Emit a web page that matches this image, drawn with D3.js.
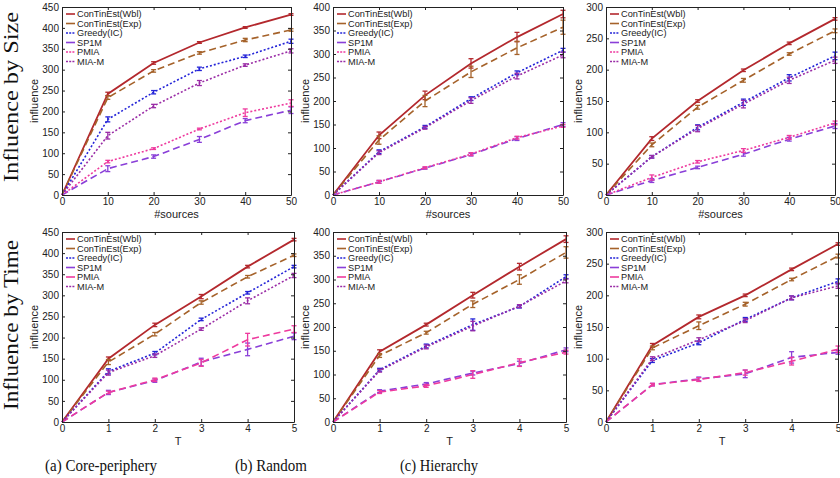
<!DOCTYPE html>
<html><head><meta charset="utf-8">
<script src="https://cdn.jsdelivr.net/npm/d3@7"></script>
<style>body{margin:0;background:#fff}svg{display:block}</style>
</head><body><svg id="c" width="840" height="478"></svg>
<script>
// ---------- data ----------
const seriesNames = ["ConTinEst(Wbl)","ConTinEst(Exp)","Greedy(IC)","SP1M","PMIA","MIA-M"];
const sizeX = [0,10,20,30,40,50];
const timeX = [0,1,2,3,4,5];
const sizeTicks = [0,10,20,30,40,50];
const timeTicks = [0,1,2,3,4,5];
const coreYTicks = [0,50,100,150,200,250,300,350,400,450];
const randomYTicks = [0,50,100,150,200,250,300,350,400];
const hierYTicks = [0,50,100,150,200,250,300];

// series order: Wbl, Exp, Greedy, SP1M, PMIA, MIA-M
const coreSizeVals = [
  [0,242,316,365,401,432],
  [0,233,297,340,371,395],
  [0,181,246,302,332,368],
  [0,63,92,133,178,203],
  [0,80,111,158,197,220],
  [0,142,213,268,311,345]];
const coreSizeErr = [
  [0,4,3,2,2,2],[0,4,3,3,4,3],[0,6,4,4,3,5],[0,7,4,7,5,8],[0,3,2,2,9,8],[0,8,4,6,3,5]];

const randomSizeVals = [
  [0,127,212,280,336,385],
  [0,117,200,262,313,357],
  [0,92,145,205,260,308],
  [0,28,57,86,120,150],
  [0,28,58,87,122,147],
  [0,90,143,201,253,298]];
const randomSizeErr = [
  [0,7,9,10,10,8],[0,9,12,12,14,15],[0,4,3,4,4,4],[0,3,2,3,4,4],[0,3,2,3,3,3],[0,4,3,6,6,6]];

const hierSizeVals = [
  [0,90,150,199,242,281],
  [0,80,140,183,225,262],
  [0,61,108,148,187,222],
  [0,23,44,65,89,110],
  [0,28,53,71,92,115],
  [0,61,106,145,183,215]];
const hierSizeErr = [
  [0,3,2,2,2,2],[0,3,3,3,2,3],[0,2,4,5,5,6],[0,3,2,3,3,4],[0,4,2,3,3,3],[0,2,5,6,5,5]];

const coreTimeVals = [
  [0,150,230,297,368,432],
  [0,142,208,283,344,395],
  [0,120,163,243,306,368],
  [0,70,98,142,172,203],
  [0,70,100,140,195,220],
  [0,117,157,220,287,347]];
const coreTimeErr = [
  [0,4,4,5,3,3],[0,6,4,4,3,3],[0,6,4,3,3,3],[0,5,4,9,15,8],[0,3,4,8,15,8],[0,6,4,3,7,5]];

const randomTimeVals = [
  [0,148,205,267,327,385],
  [0,140,188,248,300,357],
  [0,110,160,205,243,306],
  [0,65,80,103,123,152],
  [0,63,76,100,125,147],
  [0,108,158,202,244,297]];
const randomTimeErr = [
  [0,4,3,6,7,7],[0,4,3,7,10,12],[0,3,4,12,3,4],[0,3,3,4,5,4],[0,3,3,8,8,4],[0,3,4,10,3,4]];

const hierTimeVals = [
  [0,121,166,200,241,281],
  [0,117,152,186,225,262],
  [0,97,125,162,196,222],
  [0,59,68,76,102,110],
  [0,59,67,78,96,115],
  [0,100,130,160,196,215]];
const hierTimeErr = [
  [0,3,3,2,2,2],[0,3,6,3,2,3],[0,3,3,3,3,4],[0,2,3,6,9,3],[0,2,3,4,6,5],[0,3,3,3,3,4]];

const rowLabels = ["Influence by Size","Influence by Time"];
const captions = ["(a) Core-periphery","(b) Random","(c) Hierarchy"];
const xLabels = ["#sources","T"];
const yLabel = "influence";

// ---------- styles ----------
const colors = ["#b3282d","#a5622a","#2424d8","#8a3fd8","#ee3a9e","#9a2ca6"];
const widths = [1.8,1.6,1.6,1.6,1.6,1.6];
const dashTop = [null,"7,4","2,2","7,4","2,2","2,2"];
const dashBot = [null,"7,4","2,2","7,4","7,4","2,2"];

const panels = [
  {vals:coreSizeVals, err:coreSizeErr, xs:sizeX, xt:sizeTicks, yt:coreYTicks, ymax:450, x0:62, x1:291, y0:195, y1:7, row:0},
  {vals:randomSizeVals, err:randomSizeErr, xs:sizeX, xt:sizeTicks, yt:randomYTicks, ymax:400, x0:333, x1:563, y0:195, y1:7, row:0},
  {vals:hierSizeVals, err:hierSizeErr, xs:sizeX, xt:sizeTicks, yt:hierYTicks, ymax:300, x0:606, x1:835, y0:195, y1:7, row:0},
  {vals:coreTimeVals, err:coreTimeErr, xs:timeX, xt:timeTicks, yt:coreYTicks, ymax:450, x0:62, x1:294, y0:422, y1:232, row:1},
  {vals:randomTimeVals, err:randomTimeErr, xs:timeX, xt:timeTicks, yt:randomYTicks, ymax:400, x0:333, x1:566, y0:422, y1:232, row:1},
  {vals:hierTimeVals, err:hierTimeErr, xs:timeX, xt:timeTicks, yt:hierYTicks, ymax:300, x0:606, x1:838, y0:422, y1:232, row:1}
];

const svg = d3.select("#c");
const sans = "'Liberation Sans', Arial, sans-serif";
const serif = "'Liberation Serif', 'DejaVu Serif', serif";

panels.forEach((p) => {
  const xs = d3.scaleLinear().domain([p.xs[0], p.xs[p.xs.length-1]]).range([p.x0, p.x1]);
  const ys = d3.scaleLinear().domain([0, p.ymax]).range([p.y0, p.y1]);
  const g = svg.append("g");
  const dash = p.row === 0 ? dashTop : dashBot;

  // series
  p.vals.forEach((v, si) => {
    const line = d3.line().x((d,i)=>xs(p.xs[i])).y(d=>ys(d));
    g.append("path").datum(v).attr("d", line).attr("fill","none")
      .attr("stroke", colors[si]).attr("stroke-width", widths[si])
      .attr("stroke-dasharray", dash[si]);
    // error bars
    v.forEach((d,i) => {
      const e = p.err[si][i];
      if (!e) return;
      const cx = xs(p.xs[i]);
      const eb = g.append("g").attr("stroke", colors[si]).attr("stroke-width", 1.3);
      eb.append("line").attr("x1",cx).attr("x2",cx).attr("y1",ys(d-e)).attr("y2",ys(d+e));
      eb.append("line").attr("x1",cx-2.5).attr("x2",cx+2.5).attr("y1",ys(d-e)).attr("y2",ys(d-e));
      eb.append("line").attr("x1",cx-2.5).attr("x2",cx+2.5).attr("y1",ys(d+e)).attr("y2",ys(d+e));
    });
  });

  // axes (MATLAB box, inward ticks)
  const fs = 10;
  const ax = g.append("g").attr("transform",`translate(0,${p.y0})`)
    .call(d3.axisBottom(xs).tickValues(p.xt).tickSizeInner(-3).tickSizeOuter(0).tickPadding(3).tickFormat(d3.format("d")));
  const axT = g.append("g").attr("transform",`translate(0,${p.y1})`)
    .call(d3.axisTop(xs).tickValues(p.xt).tickSizeInner(-3).tickSizeOuter(0).tickFormat(""));
  const ay = g.append("g").attr("transform",`translate(${p.x0},0)`)
    .call(d3.axisLeft(ys).tickValues(p.yt).tickSizeInner(-3).tickSizeOuter(0).tickPadding(3).tickFormat(d3.format("d")));
  const ayR = g.append("g").attr("transform",`translate(${p.x1},0)`)
    .call(d3.axisRight(ys).tickValues(p.yt).tickSizeInner(-3).tickSizeOuter(0).tickFormat(""));
  [ax,axT,ay,ayR].forEach(a => {
    a.select(".domain").attr("stroke","#222").attr("stroke-width",1);
    a.selectAll(".tick line").attr("stroke","#222");
    a.selectAll("text").attr("font-family",sans).attr("font-size",fs).attr("fill","#222");
  });
  ax.selectAll("text").attr("dy","0.72em");

  // axis labels
  g.append("text").attr("x",(p.x0+p.x1)/2).attr("y", p.y0 + 23)
    .attr("text-anchor","middle").attr("font-family",sans).attr("font-size",11).attr("fill","#222")
    .text(xLabels[p.row]);
  g.append("text").attr("transform",`translate(${p.x0-24},${(p.y0+p.y1)/2}) rotate(-90)`)
    .attr("text-anchor","middle").attr("font-family",sans).attr("font-size",11).attr("fill","#222")
    .text(yLabel);

  // legend
  const lg = g.append("g");
  seriesNames.forEach((n, si) => {
    const yy = p.y1 + 7 + si*9.5;
    lg.append("line").attr("x1",p.x0+4).attr("x2",p.x0+13).attr("y1",yy).attr("y2",yy)
      .attr("stroke",colors[si]).attr("stroke-width",1.6)
      .attr("stroke-dasharray", dash[si] === "2,2" ? "2,1.2" : null);
    lg.append("text").attr("x",p.x0+15).attr("y",yy).attr("dy","0.35em")
      .attr("font-family",sans).attr("font-size",9.2).attr("fill","#222").text(n);
  });
});

// row labels
[97, 325].forEach((cy, i) => {
  svg.append("text").attr("transform",`translate(18,${cy}) rotate(-90)`)
    .attr("text-anchor","middle").attr("font-family",serif).attr("font-size",20)
    .attr("textLength",170).attr("lengthAdjust","spacingAndGlyphs").attr("fill","#111")
    .text(rowLabels[i]);
});
// captions
[[101,112],[271,72],[439,78]].forEach(([cx,w], i) => {
  svg.append("text").attr("x",cx).attr("y",471).attr("text-anchor","middle")
    .attr("font-family",serif).attr("font-size",17)
    .attr("textLength",w).attr("lengthAdjust","spacingAndGlyphs").attr("fill","#111")
    .text(captions[i]);
});
</script></body></html>
